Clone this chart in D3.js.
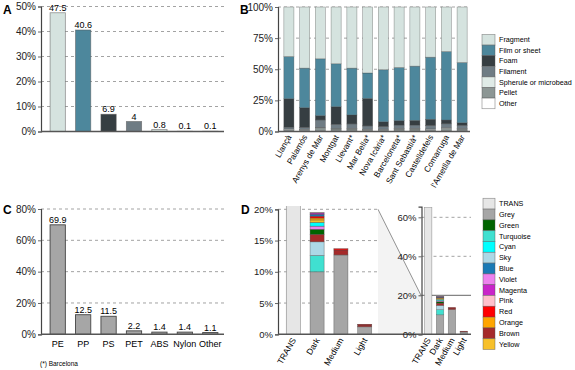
<!DOCTYPE html>
<html>
<head>
<meta charset="utf-8">
<script src="https://cdn.jsdelivr.net/npm/d3@7"></script>
<style>
  body { margin: 0; background: #fff; }
  svg { font-family: "Liberation Sans", Arial, sans-serif; }
</style>
</head>
<body>
<svg width="575" height="370"></svg>
<script>
// ---- data ----
var shapes = ["Fragment", "Film or sheet", "Foam", "Filament", "Spherule or microbead", "Pellet", "Other"];
var shapeColors = ["#d5e3df", "#4d879c", "#363e42", "#6f7c84", "#e0ebe7", "#8c9694", "#ffffff"];
var shapeTotals = [47.5, 40.6, 6.9, 4, 0.8, 0.1, 0.1];

var beaches = ["Llançà", "Palamós", "Arenys de Mar", "Montgat", "Llevant*", "Mar Bella*", "Nova Icària*",
               "Barceloneta*", "Sant Sebastià*", "Castelldefels", "Comarruga", "l'Ametlla de Mar"];
// per shape, one value per beach (%)
var fragment = [39.8, 49.1, 41.6, 45.6, 49.1, 53.0, 50.4, 48.6, 47.5, 40.3, 35.8, 44.6];
var film     = [33.9, 31.8, 45.7, 34.5, 37.6, 20.5, 41.8, 42.7, 43.6, 49.9, 55.0, 48.4];
var foam     = [22.8, 15.8,  3.4, 14.1,  7.2, 22.0,  3.8,  3.5,  3.7,  5.0,  3.0,  2.0];
var filament = [ 1.5,  1.5,  6.0,  3.5,  3.6,  2.7,  2.2,  2.7,  2.7,  2.8,  3.2,  2.5];
var spherule = [ 0.5,  0.3,  0.3,  0.3,  0.5,  0.3,  0.3,  0.5,  0.5,  0.5,  0.5,  0.5];
var pellet   = [ 1.0,  1.0,  2.5,  1.5,  1.5,  1.0,  1.0,  1.5,  1.5,  1.0,  2.0,  1.5];
var other    = [ 0.5,  0.5,  0.5,  0.5,  0.5,  0.5,  0.5,  0.5,  0.5,  0.5,  0.5,  0.5];
var beachSeries = [fragment, film, foam, filament, spherule, pellet, other];

var polymers = ["PE", "PP", "PS", "PET", "ABS", "Nylon", "Other"];
var polymerValues = [69.9, 12.5, 11.5, 2.2, 1.4, 1.4, 1.1];

var tones = ["TRANS", "Dark", "Medium", "Light"];
var colourNames = ["TRANS", "Grey", "Green", "Turquoise", "Cyan", "Sky", "Blue", "Violet", "Magenta",
                   "Pink", "Red", "Orange", "Brown", "Yellow"];
var colourFills = ["#e6e6e6", "#a6a6a6", "#006400", "#40e0d0", "#00ffff", "#add8e6", "#1a7ab5", "#ee82ee",
                   "#c925c9", "#ffc0cb", "#ff0000", "#ffa500", "#a52a2a", "#f7c02b"];
// stacking order seen in the bars (bottom -> top)
var stackOrder = ["TRANS", "Grey", "Turquoise", "Sky", "Brown", "Green", "Violet", "Cyan", "Yellow",
                  "Orange", "Red", "Blue", "Magenta", "Pink"];
// values per colour for [TRANS, Dark, Medium, Light]
var colourValues = {
  TRANS:     [65, 0, 0, 0],
  Grey:      [0, 10.0, 12.7, 1.2],
  Turquoise: [0, 2.6, 0, 0],
  Sky:       [0, 2.2, 0, 0],
  Brown:     [0, 1.2, 0.8, 0.3],
  Green:     [0, 0.8, 0, 0],
  Violet:    [0, 0.5, 0, 0],
  Cyan:      [0, 0.6, 0, 0],
  Yellow:    [0, 0.4, 0, 0],
  Orange:    [0, 0.3, 0, 0],
  Red:       [0, 0.3, 0.2, 0.1],
  Blue:      [0, 0.3, 0, 0],
  Magenta:   [0, 0.2, 0, 0],
  Pink:      [0, 0.1, 0, 0]
};

var svg = d3.select("svg");
var fmtPct = function(d) { return d + "%"; };

function yAxis(g, y, x0, ticks, gridTo, size) {
  var ax = g.append("g").attr("transform", "translate(" + x0 + ",0)")
    .call(d3.axisLeft(y).tickValues(ticks).tickFormat(fmtPct).tickSize(3).tickPadding(2));
  ax.select(".domain").attr("stroke", "#444").attr("stroke-width", 1.2);
  ax.selectAll(".tick line").attr("stroke", "#666");
  ax.selectAll("text").style("font-size", (size || 10) + "px").attr("fill", "#222");
  if (gridTo) {
    g.insert("g", ":first-child").selectAll("line").data(ticks.filter(function(t) { return t > 0; }))
      .enter().append("line")
      .attr("x1", x0).attr("x2", gridTo)
      .attr("y1", function(d) { return y(d); }).attr("y2", function(d) { return y(d); })
      .attr("stroke", "#999").attr("stroke-dasharray", "3,3").attr("stroke-width", 0.9);
  }
}

function xLine(g, x0, x1, yv) {
  g.append("line").attr("x1", x0).attr("x2", x1).attr("y1", yv).attr("y2", yv)
    .attr("stroke", "#555").attr("stroke-width", 1.6);
}

function letter(t, x, y) {
  svg.append("text").attr("x", x).attr("y", y).text(t)
    .style("font-size", "12px").style("font-weight", "bold");
}

// ---- panel A ----
var gA = svg.append("g");
var xA = d3.scaleBand().domain(shapes).range([45, 223]).paddingInner(0.4).paddingOuter(0.2);
var yA = d3.scaleLinear().domain([0, 50]).range([131.5, 6.5]);
yAxis(gA, yA, 41, [0, 10, 20, 30, 40, 50], 224);
gA.selectAll("rect").data(shapes).enter().append("rect")
  .attr("x", function(d) { return xA(d); })
  .attr("width", xA.bandwidth())
  .attr("y", function(d, i) { return yA(shapeTotals[i]); })
  .attr("height", function(d, i) { return yA(0) - yA(shapeTotals[i]); })
  .attr("fill", function(d, i) { return shapeColors[i]; })
  .attr("stroke", "#555").attr("stroke-opacity", 0.6).attr("stroke-width", 0.8);
gA.selectAll(".val").data(shapes).enter().append("text")
  .attr("x", function(d) { return xA(d) + xA.bandwidth() / 2; })
  .attr("y", function(d, i) { return yA(shapeTotals[i]) - 2; })
  .attr("text-anchor", "middle").style("font-size", "9px")
  .text(function(d, i) { return shapeTotals[i]; });
xLine(gA, 41, 224, yA(0));
letter("A", 3, 14);

// ---- panel B ----
var gB = svg.append("g");
var xB = d3.scaleBand().domain(beaches).range([281, 470]).paddingInner(0.36).paddingOuter(0.18);
var yB = d3.scaleLinear().domain([0, 100]).range([131.5, 7]);
yAxis(gB, yB, 278, [0, 25, 50, 75, 100], 470);
var rowsB = beaches.map(function(b, i) {
  var r = { beach: b };
  shapes.forEach(function(s, k) { r[s] = beachSeries[k][i]; });
  return r;
});
var stackB = d3.stack().keys(shapes.slice().reverse())(rowsB);
gB.selectAll(".layer").data(stackB).enter().append("g")
  .attr("fill", function(d) { return shapeColors[shapes.indexOf(d.key)]; })
  .selectAll("rect").data(function(d) { return d; }).enter().append("rect")
  .attr("x", function(d) { return xB(d.data.beach); })
  .attr("width", xB.bandwidth())
  .attr("y", function(d) { return yB(d[1]); })
  .attr("height", function(d) { return yB(d[0]) - yB(d[1]); })
  .attr("stroke", "#444").attr("stroke-opacity", 0.5).attr("stroke-width", 0.6);
xLine(gB, 278, 470, yB(0));
gB.selectAll(".lab").data(beaches).enter().append("text")
  .attr("transform", function(d) {
    return "translate(" + (xB(d) + xB.bandwidth() / 2 + 3) + ",137) rotate(-60)";
  })
  .attr("text-anchor", "end").style("font-size", "8.3px").text(function(d) { return d; });
letter("B", 240, 14);

var legB = svg.append("g");
shapes.forEach(function(s, i) {
  legB.append("rect").attr("x", 482).attr("y", 34.5 + i * 10.6).attr("width", 13).attr("height", 10.6)
    .attr("fill", shapeColors[i]).attr("stroke", "#555").attr("stroke-opacity", 0.6).attr("stroke-width", 0.7);
  legB.append("text").attr("x", 499).attr("y", 34.5 + i * 10.6 + 7.6).text(s).style("font-size", "7.2px");
});

// ---- panel C ----
var gC = svg.append("g");
var xC = d3.scaleBand().domain(polymers).range([45, 223]).paddingInner(0.4).paddingOuter(0.2);
var yC = d3.scaleLinear().domain([0, 80]).range([334.3, 209]);
yAxis(gC, yC, 41, [0, 20, 40, 60, 80], 224);
gC.selectAll("rect").data(polymers).enter().append("rect")
  .attr("x", function(d) { return xC(d); })
  .attr("width", xC.bandwidth())
  .attr("y", function(d, i) { return yC(polymerValues[i]); })
  .attr("height", function(d, i) { return yC(0) - yC(polymerValues[i]); })
  .attr("fill", "#a6a6a6").attr("stroke", "#444").attr("stroke-width", 0.9);
gC.selectAll(".val").data(polymers).enter().append("text")
  .attr("x", function(d) { return xC(d) + xC.bandwidth() / 2; })
  .attr("y", function(d, i) { return yC(polymerValues[i]) - 2; })
  .attr("text-anchor", "middle").style("font-size", "9px")
  .text(function(d, i) { return polymerValues[i]; });
xLine(gC, 41, 224, yC(0));
gC.selectAll(".lab").data(polymers).enter().append("text")
  .attr("x", function(d) { return xC(d) + xC.bandwidth() / 2; })
  .attr("y", 347).attr("text-anchor", "middle").style("font-size", "9px")
  .text(function(d) { return d; });
svg.append("text").attr("x", 40).attr("y", 366).text("(*) Barcelona").style("font-size", "6.5px");
letter("C", 3, 214);

// ---- panel D ----
var rowsD = tones.map(function(t, i) {
  var r = { tone: t };
  stackOrder.forEach(function(c) { r[c] = colourValues[c][i]; });
  return r;
});
var stackD = d3.stack().keys(stackOrder)(rowsD);
function fillOf(c) { return colourFills[colourNames.indexOf(c)]; }

// zoom link shading
var yD = d3.scaleLinear().domain([0, 20]).range([334.3, 209.3]);
var yI = d3.scaleLinear().domain([0, 65.5]).range([334.3, 206.6]);
svg.append("path")
  .attr("d", "M378," + yD(20) + "L421," + yI(20) + "L421," + yI(0) + "L378," + yD(0) + "Z")
  .attr("fill", "#f3f3f3");
svg.append("line").attr("x1", 378).attr("y1", yD(20)).attr("x2", 421).attr("y2", yI(20))
  .attr("stroke", "#777").attr("stroke-width", 0.8);

var gD = svg.append("g");
var xD = d3.scaleBand().domain(tones).range([281.5, 376.5]).paddingInner(0.41).paddingOuter(0.2);
yAxis(gD, yD, 278, [0, 5, 10, 15, 20], 378, 9.5);
svg.append("clipPath").attr("id", "clipD").append("rect")
  .attr("x", 270).attr("y", 206).attr("width", 120).attr("height", 140);
gD.append("g").attr("clip-path", "url(#clipD)")
  .selectAll(".layer").data(stackD).enter().append("g")
  .attr("fill", function(d) { return fillOf(d.key); })
  .selectAll("rect").data(function(d) { return d.filter(function(p) { return p[1] > p[0]; }); })
  .enter().append("rect")
  .attr("x", function(d) { return xD(d.data.tone); })
  .attr("width", xD.bandwidth())
  .attr("y", function(d) { return yD(d[1]); })
  .attr("height", function(d) { return yD(d[0]) - yD(d[1]); })
  .attr("stroke", "#444").attr("stroke-opacity", 0.6).attr("stroke-width", 0.6);
xLine(gD, 278, 421, yD(0));
gD.selectAll(".lab").data(tones).enter().append("text")
  .attr("transform", function(d) {
    return "translate(" + (xD(d) + xD.bandwidth() / 2 + 3) + ",340) rotate(-60)";
  })
  .attr("text-anchor", "end").style("font-size", "8.5px").text(function(d) { return d; });
letter("D", 241, 214);

// inset (full scale)
var gI = svg.append("g");
var xI = d3.scaleBand().domain(tones).range([422, 470]).paddingInner(0.37).paddingOuter(0.2);
yAxis(gI, yI, 421.5, [0, 20, 40, 60], 471, 9.5);
gI.selectAll("g line").filter(function(d) { return d === 20; })
  .attr("stroke", "#555").attr("stroke-dasharray", null);
gI.append("g").selectAll(".layer").data(stackD).enter().append("g")
  .attr("fill", function(d) { return fillOf(d.key); })
  .selectAll("rect").data(function(d) { return d.filter(function(p) { return p[1] > p[0]; }); })
  .enter().append("rect")
  .attr("x", function(d) { return xI(d.data.tone); })
  .attr("width", xI.bandwidth())
  .attr("y", function(d) { return yI(d[1]); })
  .attr("height", function(d) { return yI(d[0]) - yI(d[1]); })
  .attr("stroke", "#444").attr("stroke-opacity", 0.6).attr("stroke-width", 0.5);
xLine(gI, 421.5, 471, yI(0));
gI.selectAll(".lab").data(tones).enter().append("text")
  .attr("transform", function(d) {
    return "translate(" + (xI(d) + xI.bandwidth() / 2 + 3) + ",340) rotate(-60)";
  })
  .attr("text-anchor", "end").style("font-size", "8.5px").text(function(d) { return d; });

var legD = svg.append("g");
colourNames.forEach(function(c, i) {
  legD.append("rect").attr("x", 483).attr("y", 198.3 + i * 10.8).attr("width", 12).attr("height", 10.8)
    .attr("fill", colourFills[i]).attr("stroke", "#555").attr("stroke-opacity", 0.6).attr("stroke-width", 0.7);
  legD.append("text").attr("x", 499).attr("y", 198.3 + i * 10.8 + 7.8).text(c).style("font-size", "7.2px");
});
</script>
</body>
</html>
